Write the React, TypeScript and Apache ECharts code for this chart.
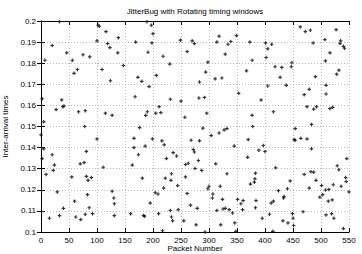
import React, { useEffect, useRef } from "react";
import * as echarts from "echarts";

const title = "JitterBug with Rotating timing windows";
const xName = "Packet Number";
const yName = "Inter-arrival times";

// packet numbers (upper half: 0.15..0.2)
const packetsHigh = [
  2, 5, 7, 20, 27, 33, 37, 39, 41, 46, 56, 59, 65, 67, 75, 79, 78, 87, 100, 102,
  104, 109, 115, 116, 119, 123, 124, 127, 138, 137, 147, 168, 169, 173, 176, 180,
  187, 190, 189, 191, 193, 197, 198, 200, 206, 205, 211, 214, 218, 230, 231, 249,
  250, 257, 261, 270, 274, 283, 282, 289, 292, 294, 298, 296, 311, 314, 318, 323,
  329, 332, 334, 339, 349, 353, 367, 373, 377, 377, 378, 393, 401, 402, 405, 405,
  412, 415, 418, 427, 430, 438, 447, 448, 454, 463, 470, 472, 475, 479, 481, 483,
  486, 487, 490, 492, 507, 508, 509, 509, 516, 516, 521, 527, 528, 532, 534, 535,
  540, 542,
];
const timesHigh = [
  0.1632, 0.1522, 0.1814, 0.1884, 0.158, 0.1997, 0.1626, 0.1594, 0.1597, 0.1849,
  0.1814, 0.1752, 0.177, 0.157, 0.184, 0.1575, 0.15, 0.183, 0.1906, 0.198,
  0.1975, 0.177, 0.1563, 0.195, 0.1893, 0.1874, 0.1717, 0.1553, 0.1921, 0.1849,
  0.1789, 0.1641, 0.19, 0.1733, 0.1495, 0.1714, 0.1553, 0.157, 0.1997, 0.1852,
  0.1689, 0.198, 0.1896, 0.194, 0.1742, 0.1563, 0.1594, 0.1566, 0.1833, 0.1796,
  0.1629, 0.1909, 0.162, 0.1544, 0.1855, 0.1906, 0.1893, 0.1711, 0.1635, 0.1492,
  0.1638, 0.1758, 0.1805, 0.1563, 0.1726, 0.19, 0.1928, 0.173, 0.1843, 0.149,
  0.189, 0.1903, 0.1931, 0.1657, 0.1764, 0.19, 0.1814, 0.1553, 0.15, 0.1626,
  0.1896, 0.1827, 0.1868, 0.1692, 0.189, 0.157, 0.1783, 0.1733, 0.178, 0.1695,
  0.1783, 0.1802, 0.149, 0.1972, 0.1651, 0.195, 0.1594, 0.1676, 0.1956, 0.151,
  0.1896, 0.1582, 0.1736, 0.1594, 0.1912, 0.1811, 0.1695, 0.1654, 0.1849, 0.1585,
  0.1591, 0.1959, 0.1748, 0.1767, 0.1893, 0.1906, 0.188, 0.1871,
];

// packet numbers (lower half: 0.1..0.15)
const packetsLow = [
  0, 2, 5, 9, 15, 20, 22, 24, 29, 33, 40, 55, 60, 62, 70, 71, 77, 79, 81, 81,
  83, 84, 86, 90, 92, 100, 111, 127, 130, 131, 131, 160, 163, 166, 166, 174, 181,
  183, 185, 186, 195, 199, 204, 209, 210, 216, 217, 220, 219, 222, 224, 231, 232,
  233, 233, 235, 236, 242, 244, 245, 255, 258, 258, 261, 263, 267, 268, 272, 274,
  275, 277, 279, 281, 283, 287, 293, 298, 300, 304, 306, 307, 312, 314, 318, 320,
  321, 324, 325, 327, 329, 332, 336, 342, 345, 346, 348, 351, 357, 360, 361, 369,
  370, 374, 381, 382, 383, 383, 384, 389, 395, 397, 400, 408, 411, 414, 415, 419,
  424, 432, 433, 434, 440, 441, 445, 449, 450, 451, 452, 454, 464, 468, 470, 475,
  479, 482, 483, 487, 491, 498, 501, 503, 508, 509, 513, 514, 519, 520, 522, 523,
  529, 532, 536, 540, 544, 545, 546, 550,
];
const timesLow = [
  0.146, 0.1348, 0.1394, 0.1273, 0.1065, 0.1366, 0.1292, 0.1317, 0.119, 0.1078,
  0.1112, 0.1261, 0.1146, 0.1071, 0.1323, 0.1059, 0.1329, 0.1084, 0.1382, 0.1264,
  0.1177, 0.1245, 0.1115, 0.1258, 0.1087, 0.1441, 0.1307, 0.1193, 0.1161, 0.1134,
  0.1078, 0.1087, 0.1317, 0.1444, 0.14, 0.1366, 0.1255, 0.1078, 0.1075, 0.1407,
  0.1137, 0.1441, 0.1186, 0.118, 0.1087, 0.1432, 0.1006, 0.1413, 0.1208, 0.1255,
  0.1348, 0.1102, 0.1245, 0.1276, 0.1071, 0.1053, 0.1376, 0.136, 0.122, 0.1106,
  0.1053, 0.132, 0.1261, 0.1183, 0.1326, 0.1127, 0.1435, 0.1391, 0.1379, 0.1301,
  0.1034, 0.1112, 0.1339, 0.1432, 0.1292, 0.1, 0.1205, 0.1217, 0.1457, 0.1161,
  0.118, 0.1323, 0.1102, 0.1469, 0.1217, 0.1034, 0.1155, 0.1109, 0.1484, 0.1112,
  0.1276, 0.1106, 0.109, 0.1407, 0.1043, 0.1003, 0.1155, 0.1134, 0.1106, 0.1149,
  0.1354, 0.1438, 0.1227, 0.1236, 0.1252, 0.1279, 0.1115, 0.1149, 0.1388, 0.1065,
  0.141, 0.1382, 0.1084, 0.1137, 0.1003, 0.1146, 0.1304, 0.1196, 0.1053, 0.1161,
  0.1168, 0.1205, 0.1043, 0.1242, 0.1087, 0.1065, 0.1031, 0.1438, 0.1435, 0.1444,
  0.1096, 0.1273, 0.1441, 0.1208, 0.1286, 0.1394, 0.1283, 0.1245, 0.1165, 0.122,
  0.1177, 0.1199, 0.1081, 0.1146, 0.1202, 0.1087, 0.1152, 0.1224, 0.1065, 0.1314,
  0.1295, 0.1217, 0.1016, 0.1258, 0.1239, 0.1348, 0.119,
];

const xMin = 0;
const xMax = 550;
const xStep = 50;
const yMin = 0.1;
const yMax = 0.2;
const yStep = 0.01;

const FONT = "Liberation Sans";
const PLUS = "path://M2,0H4V2H6V4H4V6H2V4H0V2H2Z";

export default function App() {
  const ref = useRef<HTMLDivElement>(null);
  useEffect(() => {
    document.body.style.margin = "0";
    const chart = echarts.init(ref.current!, undefined, { renderer: "svg" });
    const data: number[][] = [];
    packetsHigh.forEach((p, i) => data.push([p, timesHigh[i]]));
    packetsLow.forEach((p, i) => data.push([p, timesLow[i]]));
    const gridLine = { show: true, lineStyle: { color: "#b8b8b8", type: [1, 2] as any, width: 1 } };
    const tick = { show: true, inside: true, length: 4, lineStyle: { color: "#000" } };
    const axisLine = { show: true, lineStyle: { color: "#000", width: 1 } };
    const label = { color: "#000", fontFamily: FONT, fontSize: 8 };
    const textStyle = {
      fontFamily: FONT,
      fontSize: 8,
      fill: "#000",
      textAlign: "center",
      textVerticalAlign: "middle",
    };
    chart.setOption({
      animation: false,
      backgroundColor: "#fff",
      grid: {
        left: 41,
        right: 13,
        top: 21,
        bottom: 22,
        containLabel: false,
        outerBoundsMode: "none",
      },
      graphic: [
        { type: "text", x: 195, y: 11, style: { ...textStyle, text: title } },
        { type: "text", x: 195, y: 248, style: { ...textStyle, text: xName } },
      ],
      xAxis: [
        {
          type: "value",
          min: xMin,
          max: xMax,
          interval: xStep,
          position: "bottom",
          axisLine,
          axisTick: tick,
          axisLabel: { ...label, margin: 4 },
          splitLine: gridLine,
        },
        {
          type: "value",
          min: xMin,
          max: xMax,
          interval: xStep,
          position: "top",
          axisLine,
          axisTick: tick,
          axisLabel: { show: false },
          splitLine: { show: false },
        },
      ],
      yAxis: [
        {
          type: "value",
          min: yMin,
          max: yMax,
          interval: yStep,
          position: "left",
          name: yName,
          nameLocation: "middle",
          nameGap: 31,
          nameTextStyle: { color: "#000", fontFamily: FONT, fontSize: 8 },
          axisLine,
          axisTick: tick,
          axisLabel: {
            ...label,
            margin: 5,
            formatter: (v: number) => String(+v.toFixed(2)),
          },
          splitLine: gridLine,
        },
        {
          type: "value",
          min: yMin,
          max: yMax,
          interval: yStep,
          position: "right",
          axisLine,
          axisTick: tick,
          axisLabel: { show: false },
          splitLine: { show: false },
        },
      ],
      series: [
        {
          type: "scatter",
          xAxisIndex: 0,
          yAxisIndex: 0,
          symbol: PLUS,
          symbolSize: 3.5,
          itemStyle: { color: "#000" },
          data,
        },
      ],
    });
    return () => chart.dispose();
  }, []);
  return <div ref={ref} style={{ width: 362, height: 254 }} />;
}
